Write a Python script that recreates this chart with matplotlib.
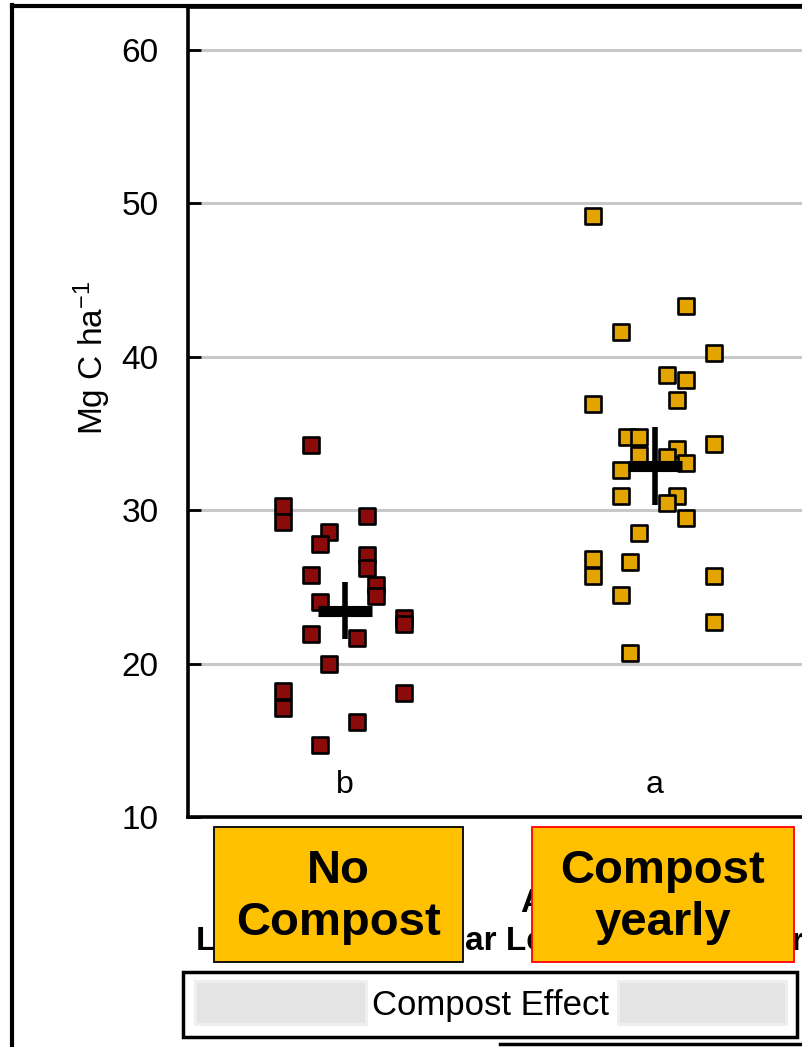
import matplotlib.pyplot as plt
from matplotlib.patches import Rectangle
from matplotlib.lines import Line2D

plt.rcParams['font.family'] = ['Liberation Sans', 'DejaVu Sans']
plt.rcParams['mathtext.default'] = 'regular'

W, H = 803, 1047  # tamaño en pixeles

groups = ['No\nCompost', 'Compost\nyearly']
letters = ['b', 'a']

# Valores (Mg C/ha) y desplazamiento horizontal (jitter)
no_compost = [34.25, 30.3, 29.2, 29.6, 28.6, 27.8, 27.1, 26.2, 25.8, 25.1, 24.4,
              24.0, 23.0, 22.6, 21.9, 21.7, 20.0, 18.2, 17.1, 18.1, 16.2, 14.7]
no_compost_x = [-0.11, -0.20, -0.20, 0.07, -0.05, -0.08, 0.07, 0.07, -0.11, 0.10, 0.10,
                -0.08, 0.19, 0.19, -0.11, 0.04, -0.05, -0.20, -0.20, 0.19, 0.04, -0.08]

compost = [49.2, 43.3, 41.6, 40.25, 38.8, 38.5, 37.2, 36.9, 34.8, 34.8, 34.3, 34.0,
           33.6, 33.5, 33.1, 32.6, 30.9, 30.9, 30.5, 29.5, 28.5, 26.8, 25.7, 26.6,
           25.7, 24.5, 22.7, 20.7]
compost_x = [-0.20, 0.10, -0.11, 0.19, 0.04, 0.10, 0.07, -0.20, -0.09, -0.05, 0.19, 0.07,
             -0.05, 0.04, 0.10, -0.11, -0.11, 0.07, 0.04, 0.10, -0.05, -0.20, -0.20, -0.08,
             0.19, -0.11, 0.19, -0.08]

means = [23.4, 32.9]
err_low = [21.6, 30.35]
err_high = [25.3, 35.4]

fill_colors = ['#8B0A0A', '#E3A400']


def px(x, y):
    """Convierte pixeles de la imagen a fracción de figura."""
    return x / W, 1 - y / H


fig = plt.figure(figsize=(W / 100, H / 100), dpi=100)

ax = fig.add_axes([188 / W, 1 - 817 / H, (W - 188) / W, (817 - 7) / H])
ax.set_xlim(-157 / 310, (803 - 345) / 310)
ax.set_ylim(10, 60 + 43 / 15.34)
ax.set_yticks([10, 20, 30, 40, 50, 60])
ax.set_xticks([])
ax.yaxis.grid(True, color='#C8C8C8', lw=2.2)
ax.set_axisbelow(True)
ax.tick_params(axis='y', direction='in', length=9, width=2, pad=21, labelsize=24)
for s in ['left', 'bottom', 'top']:
    ax.spines[s].set_linewidth(2.6)
ax.spines['right'].set_visible(False)

series = [(no_compost_x, no_compost), (compost_x, compost)]
for i, (xs, ys) in enumerate(series):
    ax.scatter([i + d for d in xs], ys, marker='s', s=130, c=fill_colors[i],
               edgecolors='black', linewidths=1.9, zorder=3)
    ax.hlines(means[i], i - 0.087, i + 0.087, color='black', lw=8, zorder=4)
    ax.vlines(i, err_low[i], err_high[i], color='black', lw=4, zorder=4)
    ax.text(i, 12.1, letters[i], ha='center', va='center', fontsize=23)

fig.text(*px(92, 358), 'Mg C ha$^{-1}$', rotation=90, ha='center', va='center',
         fontsize=24)

# marco exterior
fig.add_artist(Line2D([12 / W, 12 / W], [0, 1 - 5 / H], color='black', lw=3))
fig.add_artist(Line2D([12 / W, 1], [1 - 6 / H, 1 - 6 / H], color='black', lw=3))

# etiquetas originales parcialmente tapadas
fig.text(*px(520, 912), 'A', ha='left', va='baseline', fontsize=24, weight='bold')
fig.text(*px(196, 950), 'L', ha='left', va='baseline', fontsize=24, weight='bold')
fig.text(*px(465, 950), 'ar Le', ha='left', va='baseline', fontsize=24, weight='bold')
fig.text(*px(792, 950), 'r', ha='left', va='baseline', fontsize=22, weight='bold')

# cajas naranjas
boxes = [(214, 463, 'black'), (532, 794, 'red')]
for (x0, x1, ec), label in zip(boxes, groups):
    fig.add_artist(Rectangle(px(x0, 962), (x1 - x0) / W, (962 - 827) / H,
                             transform=fig.transFigure, fc='#FFC000', ec=ec, lw=1.3,
                             zorder=5))
    fig.text(*px((x0 + x1) / 2, 897), label, ha='center', va='center', fontsize=34,
             weight='bold', linespacing=1.25, zorder=6)

# caja "Compost Effect"
fig.add_artist(Rectangle(px(183, 1037), (797 - 183) / W, (1037 - 972) / H,
                         transform=fig.transFigure, fc='white', ec='black', lw=2.5))
for x0, x1 in [(197, 365), (620, 785)]:
    fig.add_artist(Rectangle(px(x0 - 3, 1026), (x1 - x0 + 6) / W, 46 / H,
                             transform=fig.transFigure, fc='#EFEFEF', ec='none'))
    fig.add_artist(Rectangle(px(x0, 1023), (x1 - x0) / W, 40 / H,
                             transform=fig.transFigure, fc='#E4E4E4', ec='none'))
fig.text(*px(491, 1005), 'Compost Effect', ha='center', va='center', fontsize=25)
fig.add_artist(Line2D([500 / W, 1], [1 - 1044 / H, 1 - 1044 / H], color='black', lw=2.5))

fig.savefig('out.png', dpi=100)
